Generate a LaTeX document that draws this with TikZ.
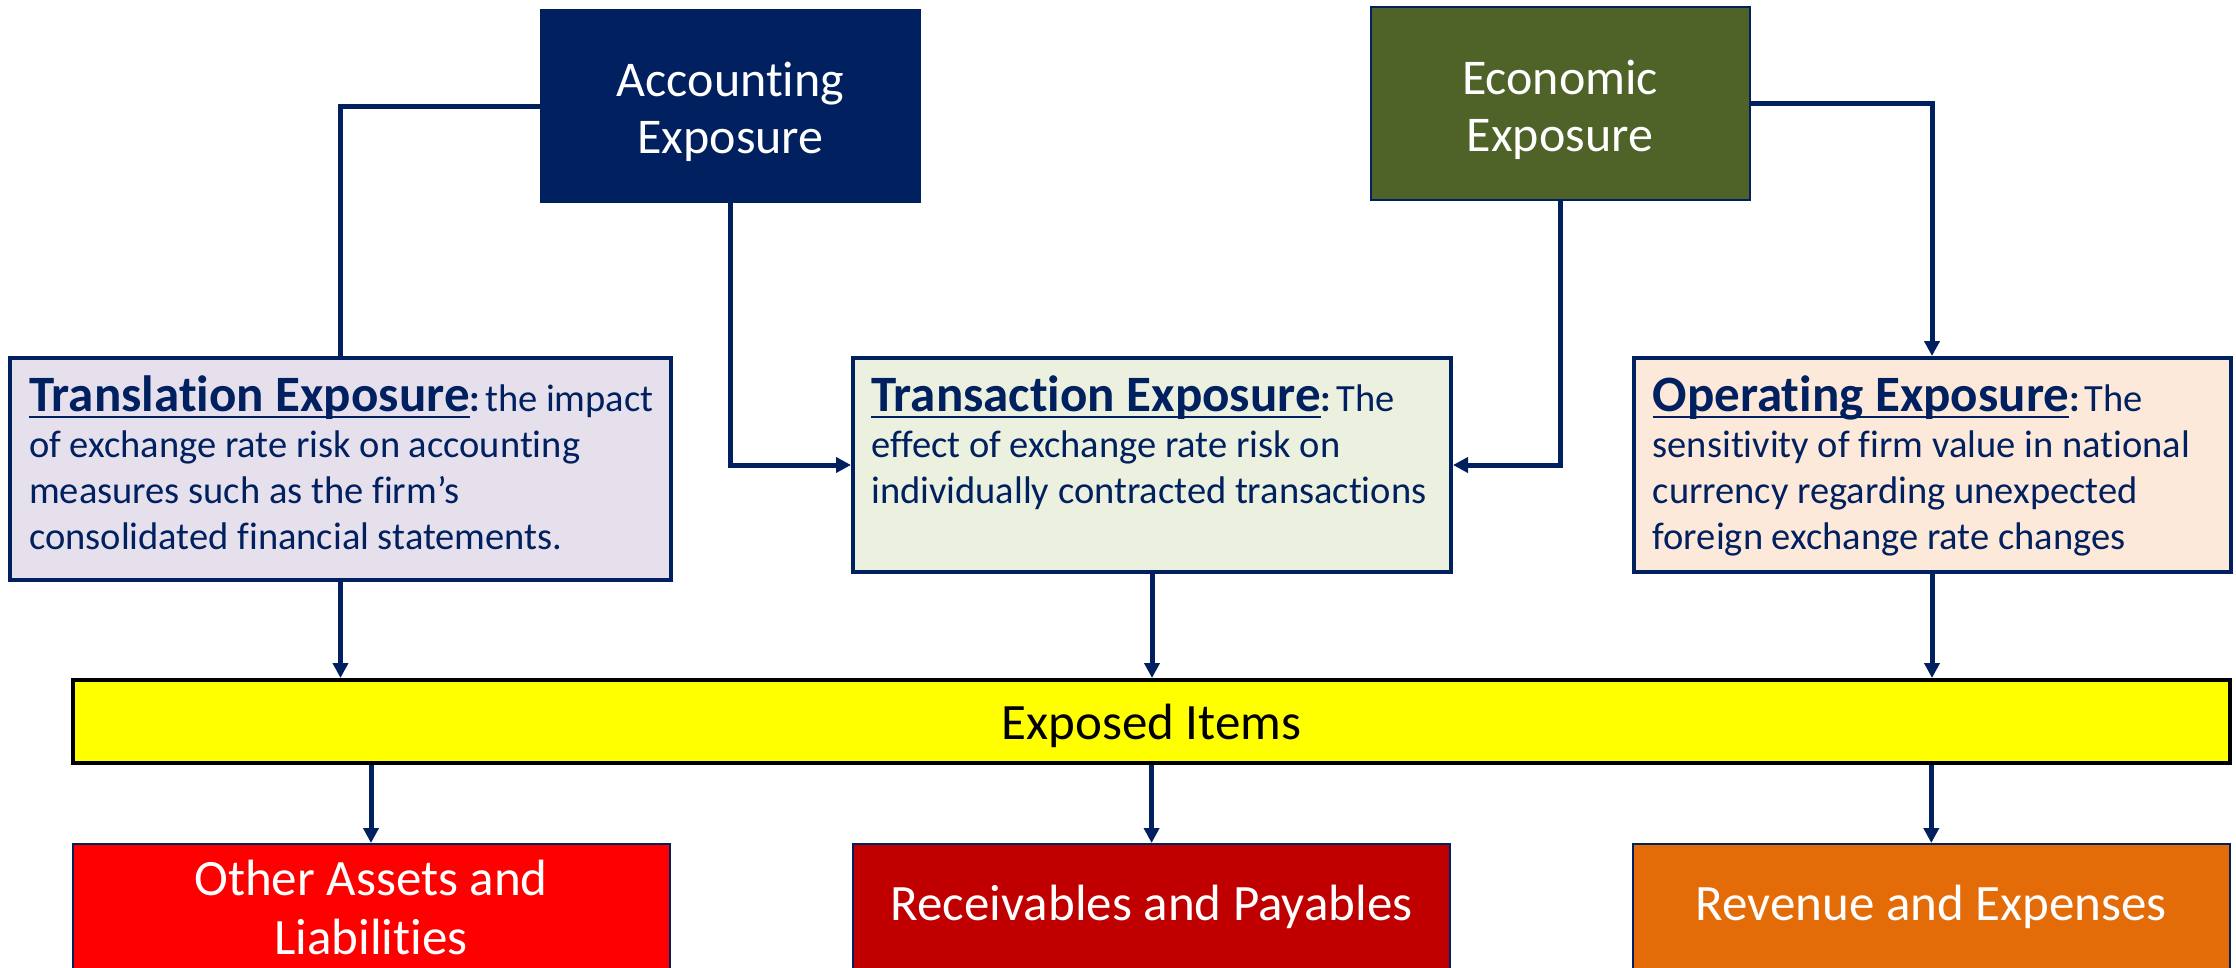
\documentclass[tikz,border=0pt]{standalone}
\usepackage{fontspec}
\setmainfont{Carlito}[Ligatures=NoCommon]
\usetikzlibrary{arrows.meta}
\definecolor{navy}{HTML}{002060}
\definecolor{olive}{HTML}{4F6228}
\definecolor{lavender}{HTML}{E6E0EC}
\definecolor{palegreen}{HTML}{EBF1DE}
\definecolor{peach}{HTML}{FDE9D9}
\definecolor{brightyellow}{HTML}{FFFF00}
\definecolor{brightred}{HTML}{FF0000}
\definecolor{darkred}{HTML}{C00000}
\definecolor{burntorange}{HTML}{E36C09}
% underlined bold heading followed by a bold colon and a narrow gap
\newsavebox{\hdbox}
\newcommand{\hd}[1]{{\fontsize{51}{51}\selectfont\bfseries
  \sbox{\hdbox}{#1}\rlap{\rule[-7.25pt]{\wd\hdbox}{2.5pt}}\usebox{\hdbox}}%
  {\bfseries:}\hspace{5pt}}
% stacked lines whose baseline is that of the first line
\newcommand{\stack}[1]{\vtop{\baselineskip=46pt\lineskiplimit=-100pt #1}}
\begin{document}
\begin{tikzpicture}[x=1pt,y=-1pt,
  topbox/.style={rectangle, inner sep=0pt},
  toptext/.style={inner sep=0pt, align=center, text=white,
    font=\fontsize{50}{57}\selectfont},
  descbox/.style={rectangle, draw=navy, line width=4pt, inner sep=0pt},
  desctext/.style={anchor=base west, inner sep=0pt, text=navy,
    font=\fontsize{38.5}{46}\selectfont},
  itembox/.style={rectangle, draw=navy, line width=2pt, inner sep=0pt,
    align=center, text=white, font=\fontsize{51}{59}\selectfont,
    minimum width=597pt, minimum height=126pt},
  link/.style={draw=navy, line width=5pt},
  arrow/.style={link, -{Triangle[length=15pt,width=15pt]}}
]
\useasboundingbox (0,0) rectangle (2236,967);

% exposure categories
\node[topbox, fill=navy, minimum width=381pt, minimum height=194pt]
  (acc) at (730.5,106) {};
\node[topbox, fill=olive, draw=navy, line width=2pt,
  minimum width=379pt, minimum height=193pt]
  (eco) at (1560,103.5) {};
\node[toptext] (acctext) at ([yshift=-6pt]acc.center) {Accounting\\Exposure};
\node[toptext] (ecotext) at ([yshift=-6pt]eco.center) {Economic\\Exposure};

% exposure types
\node[descbox, fill=lavender, minimum width=661pt, minimum height=222pt]
  (trl) at (340.5,469) {};
\node[descbox, fill=palegreen, minimum width=598pt, minimum height=214pt]
  (trn) at (1152,465) {};
\node[descbox, fill=peach, minimum width=597pt, minimum height=214pt]
  (opr) at (1932,465) {};

\node[desctext] (trltext) at ([shift={(21,55)}]trl.north west)
  {\stack{\hbox{\hd{Translation Exposure}the impact}
   \hbox{of exchange rate risk on accounting}
   \hbox{measures such as the firm’s}
   \hbox{consolidated financial statements.}}};
\node[desctext] (trntext) at ([shift={(20,55)}]trn.north west)
  {\stack{\hbox{\hd{Transaction Exposure}The}
   \hbox{effect of exchange rate risk on}
   \hbox{individually contracted transactions}}};
\node[desctext] (oprtext) at ([shift={(21,55)}]opr.north west)
  {\stack{\hbox{\hd{Operating Exposure}The}
   \hbox{sensitivity of firm value in national}
   \hbox{currency regarding unexpected}
   \hbox{foreign exchange rate changes}}};

% exposed items bar
\node[rectangle, draw=black, line width=4pt, fill=brightyellow, inner sep=0pt,
  minimum width=2157pt, minimum height=83pt, text depth=0pt,
  font=\fontsize{51}{58}\selectfont]
  (items) at (1151.4,721.5) {Exposed Items};

% items affected
\node[itembox, fill=brightred] (oal) at (371,907) {Other Assets and\\Liabilities};
\node[itembox, fill=darkred] (rp) at (1151.6,907) {Receivables and Payables};
\node[itembox, fill=burntorange] (re) at (1931.3,907) {Revenue and Expenses};

% connectors
\draw[link] (acc.west) -| (trl.north);
\draw[arrow] (acc.south) |- (trn.west);
\draw[arrow] (eco.south) |- (trn.east);
\draw[arrow] (eco.east) -| (opr.north);
\draw[arrow] (trl.south) -- (trl.south |- items.north);
\draw[arrow] (trn.south) -- (trn.south |- items.north);
\draw[arrow] (opr.south) -- (opr.south |- items.north);
\draw[arrow] (oal.north |- items.south) -- (oal.north);
\draw[arrow] (rp.north |- items.south) -- (rp.north);
\draw[arrow] (re.north |- items.south) -- (re.north);
\end{tikzpicture}
\end{document}
